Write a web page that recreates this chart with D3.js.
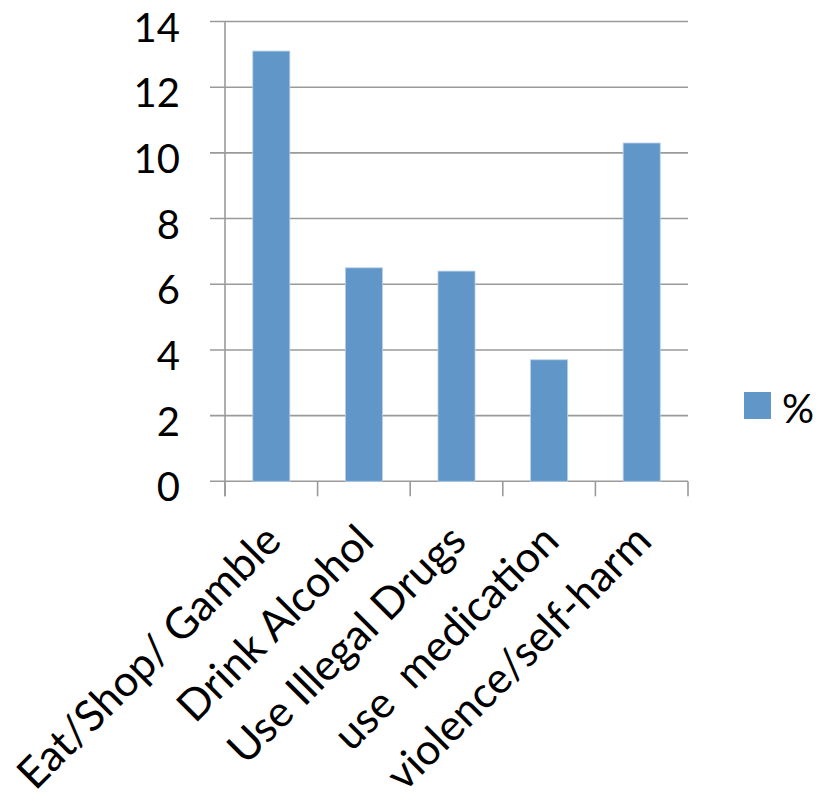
<!DOCTYPE html>
<html><head><meta charset="utf-8">
<script src="https://cdn.jsdelivr.net/npm/d3@7"></script>
<style>body{margin:0;background:#fff}svg{display:block}text{white-space:pre}</style>
</head><body>
<script>
const categories = ["Eat/Shop/ Gamble", "Drink Alcohol", "Use Illegal Drugs", "use  medication", "violence/self-harm"];
const values = [13.1, 6.5, 6.4, 3.7, 10.3];
const yTicks = [0, 2, 4, 6, 8, 10, 12, 14];
const seriesName = "%";

const W = 821, H = 805;
const m = {left: 225, right: 821 - 688, top: 21.5, bottom: 805 - 481.3};
const font = "Lato, 'Open Sans', sans-serif";
const svg = d3.select("body").append("svg").attr("width", W).attr("height", H);

const x = d3.scaleBand().domain(categories).range([m.left, W - m.right]).paddingInner(0.6).paddingOuter(0.3);
const y = d3.scaleLinear().domain([0, 14]).range([H - m.bottom, m.top]);

// gridlines
svg.append("g").selectAll("line").data(yTicks).join("line")
  .attr("x1", m.left - 15).attr("x2", W - m.right)
  .attr("y1", d => y(d)).attr("y2", d => y(d))
  .attr("stroke", "#9a9a9a").attr("stroke-width", 1.6);

// y axis line
svg.append("line").attr("x1", m.left).attr("x2", m.left)
  .attr("y1", y(14)).attr("y2", y(0) + 15).attr("stroke", "#9a9a9a").attr("stroke-width", 1.6);

// x category ticks
const step = x.step();
const bounds = categories.map((c, i) => m.left + i * step).concat([W - m.right]);
svg.append("g").selectAll("line").data(bounds).join("line")
  .attr("x1", d => d).attr("x2", d => d)
  .attr("y1", y(0)).attr("y2", y(0) + 15)
  .attr("stroke", "#9a9a9a").attr("stroke-width", 1.6);

// y tick labels
svg.append("g").selectAll("text").data(yTicks).join("text")
  .attr("x", 180).attr("y", d => y(d) + 20)
  .attr("text-anchor", "end").attr("font-family", font).attr("font-size", 40)
  .attr("fill", "#000").text(d => d);

// bars
svg.append("g").selectAll("rect").data(values).join("rect")
  .attr("x", (d, i) => x(categories[i])).attr("width", x.bandwidth())
  .attr("y", d => y(d)).attr("height", d => y(0) - y(d))
  .attr("fill", "#6096c8").attr("stroke", "#b8d0ea").attr("stroke-width", 0.8);

// x labels
svg.append("g").selectAll("text").data(categories).join("text")
  .attr("transform", d => `translate(${x(d) + x.bandwidth() / 2 + 12},${y(0) + 62}) rotate(-45)`)
  .attr("text-anchor", "end").attr("font-family", font).attr("font-size", 43)
  .attr("fill", "#000").text(d => d);

// legend
svg.append("rect").attr("x", 744).attr("y", 392).attr("width", 27).attr("height", 27).attr("fill", "#6096c8");
svg.append("text").attr("x", 782).attr("y", 423)
  .attr("font-family", font).attr("font-size", 40).attr("fill", "#000").text(seriesName);
</script>
</body></html>
